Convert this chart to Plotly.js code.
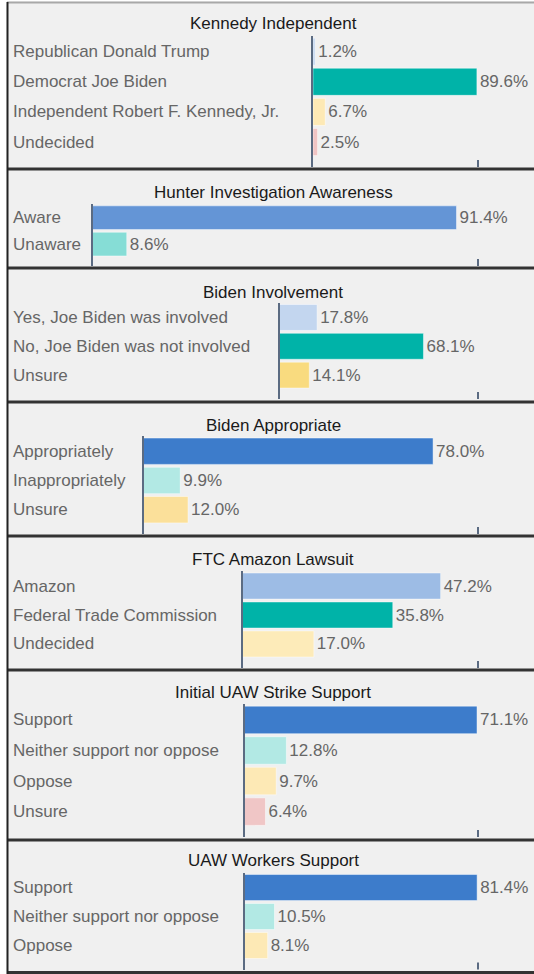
<!DOCTYPE html>
<html>
<head>
<meta charset="utf-8">
<script src="https://cdn.plot.ly/plotly-3.0.1.min.js"></script>
<style>
  html, body { margin: 0; padding: 0; background: #ffffff; }
  #chart { width: 534px; height: 974px; }
</style>
</head>
<body>
<div id="chart"></div>
<script>
// ---- Data ----
const titles = [
  "Kennedy Independent",
  "Hunter Investigation Awareness",
  "Biden Involvement",
  "Biden Appropriate",
  "FTC Amazon Lawsuit",
  "Initial UAW Strike Support",
  "UAW Workers Support"
];

const kennedyCats = ["Republican Donald Trump", "Democrat Joe Biden", "Independent Robert F. Kennedy, Jr.", "Undecided"];
const kennedyVals = [1.2, 89.6, 6.7, 2.5];

const hunterCats = ["Aware", "Unaware"];
const hunterVals = [91.4, 8.6];

const involvementCats = ["Yes, Joe Biden was involved", "No, Joe Biden was not involved", "Unsure"];
const involvementVals = [17.8, 68.1, 14.1];

const appropriateCats = ["Appropriately", "Inappropriately", "Unsure"];
const appropriateVals = [78.0, 9.9, 12.0];

const ftcCats = ["Amazon", "Federal Trade Commission", "Undecided"];
const ftcVals = [47.2, 35.8, 17.0];

const strikeCats = ["Support", "Neither support nor oppose", "Oppose", "Unsure"];
const strikeVals = [71.1, 12.8, 9.7, 6.4];

const workersCats = ["Support", "Neither support nor oppose", "Oppose"];
const workersVals = [81.4, 10.5, 8.1];

// ---- Styles ----
const kennedyColors = ["#c5d8f0", "#00b3a8", "#fde9b5", "#f0c4c4"];
const hunterColors = ["#6495d6", "#86ddd6"];
const involvementColors = ["#c3d6ef", "#00b3a8", "#f9db7f"];
const appropriateColors = ["#3d7ccb", "#b2e9e4", "#fbe09a"];
const ftcColors = ["#9dbce5", "#00b3a8", "#fdebb9"];
const strikeColors = ["#3d7ccb", "#b2e9e4", "#fde9b5", "#f0c6c6"];
const workersColors = ["#3d7ccb", "#b2e9e4", "#fde9b5"];

const panels = [
  {cats: kennedyCats, vals: kennedyVals, colors: kennedyColors},
  {cats: hunterCats, vals: hunterVals, colors: hunterColors},
  {cats: involvementCats, vals: involvementVals, colors: involvementColors},
  {cats: appropriateCats, vals: appropriateVals, colors: appropriateColors},
  {cats: ftcCats, vals: ftcVals, colors: ftcColors},
  {cats: strikeCats, vals: strikeVals, colors: strikeColors},
  {cats: workersCats, vals: workersVals, colors: workersColors}
];

// geometry in px (layout only)
const geom = [
  {zero: 313, top: 36, bottom: 167, rmax: 90.2, ty: 23.5},
  {zero: 92.5, top: 204, bottom: 266, rmax: 96.8, ty: 192},
  {zero: 279.5, top: 302.5, bottom: 399, rmax: 93.9, ty: 292},
  {zero: 143.5, top: 436, bottom: 534, rmax: 90.1, ty: 425.5},
  {zero: 242.5, top: 571, bottom: 668, rmax: 56.1, ty: 559},
  {zero: 244.5, top: 704, bottom: 837, rmax: 71.4, ty: 692},
  {zero: 244.5, top: 872.5, bottom: 969.5, rmax: 81.7, ty: 860.5}
];
const separators = [169, 268, 402, 536, 670, 840, 972.5];

const W = 534, H = 974;
const FONT = "'Liberation Sans', Arial, sans-serif";
const AXIS_COLOR = "#5b6b82";
const TEXT_GRAY = "#666666";
const px = v => v / W;
const py = v => 1 - v / H;

const data = [];
const layout = {
  width: W, height: H,
  margin: {l: 0, r: 0, t: 0, b: 0},
  paper_bgcolor: "#f0f0f0",
  plot_bgcolor: "rgba(0,0,0,0)",
  showlegend: false,
  bargap: 0.1,
  font: {family: FONT, size: 17, color: TEXT_GRAY},
  annotations: [],
  shapes: []
};

panels.forEach((p, i) => {
  const g = geom[i];
  const k = i === 0 ? "" : String(i + 1);
  const n = p.cats.length;
  data.push({
    type: "bar",
    orientation: "h",
    x: p.vals,
    y: p.cats,
    xaxis: "x" + k,
    yaxis: "y" + k,
    marker: {color: p.colors, line: {color: "rgba(255,255,255,0.45)", width: 1}},
    text: p.vals.map(v => v.toFixed(1) + "%"),
    textposition: "outside",
    textfont: {family: FONT, size: 17, color: TEXT_GRAY},
    cliponaxis: false,
    constraintext: "none",
    hoverinfo: "none"
  });
  layout["xaxis" + k] = {
    domain: [px(g.zero), px(478)],
    range: [0, g.rmax],
    anchor: "y" + k,
    showgrid: false, zeroline: false, showline: false,
    showticklabels: false, ticks: "",
    fixedrange: true
  };
  layout["yaxis" + k] = {
    domain: [py(g.bottom), py(g.top)],
    type: "category",
    categoryorder: "array",
    categoryarray: p.cats,
    range: [n - 1 + 0.83, -0.52],
    anchor: "x" + k,
    showgrid: false, zeroline: false,
    showline: true, linecolor: AXIS_COLOR, linewidth: 2,
    showticklabels: false, ticks: "",
    fixedrange: true
  };
  // small end tick at the right end of the value axis
  const h = g.bottom - g.top;
  layout.shapes.push({
    type: "line", xref: "x" + k + " domain", yref: "y" + k + " domain",
    x0: 1, x1: 1, y0: 0, y1: 7 / h,
    line: {color: AXIS_COLOR, width: 2}
  });
  // title
  layout.annotations.push({
    text: titles[i],
    xref: "paper", yref: "paper",
    x: px(273), y: py(g.ty),
    xanchor: "center", yanchor: "middle",
    showarrow: false,
    font: {family: FONT, size: 17, color: "#1a1a1a"}
  });
  // category labels
  p.cats.forEach(c => {
    layout.annotations.push({
      text: c,
      xref: "paper", yref: "y" + k,
      x: px(10.5), y: c,
      xanchor: "left", yanchor: "middle",
      showarrow: false,
      font: {family: FONT, size: 17, color: TEXT_GRAY}
    });
  });
});

// frame: white outside strips, left border, top line, separators
layout.shapes.push({type: "rect", xref: "paper", yref: "paper", x0: 0, x1: px(6.5), y0: 0, y1: 1,
  fillcolor: "#ffffff", line: {width: 0}, layer: "below"});
layout.shapes.push({type: "rect", xref: "paper", yref: "paper", x0: 0, x1: 1, y0: py(1.5), y1: 1,
  fillcolor: "#ffffff", line: {width: 0}, layer: "below"});
layout.shapes.push({type: "line", xref: "paper", yref: "paper", x0: px(7), x1: 1, y0: py(2.5), y1: py(2.5),
  line: {color: "#a8a8a8", width: 2}});
separators.forEach(s => {
  layout.shapes.push({type: "line", xref: "paper", yref: "paper", x0: px(7), x1: 1, y0: py(s), y1: py(s),
    line: {color: "#333333", width: 3}});
});
layout.shapes.push({type: "line", xref: "paper", yref: "paper", x0: px(7.5), x1: px(7.5), y0: 0, y1: py(2),
  line: {color: "#222222", width: 2}});

Plotly.newPlot("chart", data, layout, {displayModeBar: false, staticPlot: true});
</script>
</body>
</html>
